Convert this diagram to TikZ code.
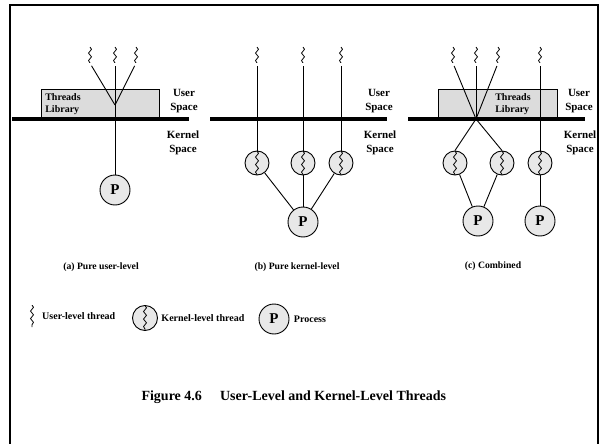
\documentclass[tikz,border=0pt]{standalone}
\usepackage{fontspec}
\setmainfont{Liberation Serif}
\usetikzlibrary{positioning,decorations.pathmorphing}
\definecolor{boxgray}{RGB}{220,220,220}
\definecolor{circgray}{RGB}{232,232,232}

\begin{document}
\begin{tikzpicture}[x=1pt,y=-1pt,
  outline/.style={line width=2.5pt},
  divider/.style={line width=3.5pt},
  link/.style={line width=0.9pt},
  wiggle/.style={decorate,decoration={snake,amplitude=1.5pt,segment length=7.5pt},line width=0.8pt},
  uthread/.style={minimum width=7pt,minimum height=16pt,inner sep=0pt,
    path picture={\draw[wiggle] (path picture bounding box.north) -- (path picture bounding box.south);}},
  kthread/.style={circle,draw,line width=0.9pt,fill=circgray,minimum size=24pt,inner sep=0pt,
    path picture={\draw[wiggle] (path picture bounding box.north) -- (path picture bounding box.south);}},
  proc/.style={circle,draw,line width=0.9pt,fill=circgray,minimum size=30pt,inner sep=0pt,
    font=\fontsize{15}{15}\selectfont\bfseries},
  libbox/.style={draw,line width=0.9pt,fill=boxgray,anchor=north west,inner sep=0pt},
  libtxt/.style={align=left,font=\fontsize{10}{12}\selectfont\bfseries},
  spacelbl/.style={align=center,font=\fontsize{11}{14.5}\selectfont\bfseries},
  panelcap/.style={font=\fontsize{9.7}{12}\selectfont\bfseries},
  legtxt/.style={font=\fontsize{10}{12}\selectfont\bfseries},
  figcap/.style={font=\fontsize{14}{16}\selectfont\bfseries},
]
\useasboundingbox (0,0) rectangle (600,444);
\draw[outline] (10,446) -- (10,5) -- (598,5) -- (598,446);

\node[libbox,minimum width=118pt,minimum height=29pt] (libA) at (41,89) {};
\node[libtxt] (tlA) at (63,104) {Threads\\Library};
\draw[divider] (12,119) -- (189,119);
\node[spacelbl] (usA) at (184,101) {User\\Space};
\node[spacelbl] (ksA) at (183,143) {Kernel\\Space};
\node[uthread] (ua1) at (90,55) {};
\node[uthread] (ua2) at (115,55) {};
\node[uthread] (ua3) at (136,55) {};
\coordinate (cvA) at (115,105);
\node[proc] (pA) at (115,190) {P};
\draw[link,shorten <=3pt] (ua1.south) -- (cvA);
\draw[link,shorten <=3pt] (ua3.south) -- (cvA);
\draw[link,shorten <=3pt] (ua2.south) -- (pA);
\node[panelcap] (capA) at (101,267) {(a) Pure user-level};

\draw[divider] (210,119) -- (387,119);
\node[spacelbl] (usB) at (379,101) {User\\Space};
\node[spacelbl] (ksB) at (380,143) {Kernel\\Space};
\node[uthread] (ub1) at (257,55) {};
\node[uthread] (ub2) at (303,55) {};
\node[uthread] (ub3) at (341,55) {};
\node[kthread] (kb1) at (257,163) {};
\node[kthread] (kb2) at (303,163) {};
\node[kthread] (kb3) at (341,163) {};
\node[proc] (pB) at (303,222) {P};
\draw[link,shorten <=3pt] (ub1.south) -- (kb1.north);
\draw[link,shorten <=3pt] (ub2.south) -- (kb2.north);
\draw[link,shorten <=3pt] (ub3.south) -- (kb3.north);
\draw[link] (kb1) -- (pB);
\draw[link] (kb2) -- (pB);
\draw[link] (kb3) -- (pB);
\node[panelcap] (capB) at (297,267) {(b) Pure kernel-level};

\node[libbox,minimum width=119pt,minimum height=29pt] (libC) at (438,89) {};
\node[libtxt] (tlC) at (513,104) {Threads\\Library};
\draw[divider] (408,119) -- (585,119);
\node[spacelbl] (usC) at (579,101) {User\\Space};
\node[spacelbl] (ksC) at (580,143) {Kernel\\Space};
\node[uthread] (uc1) at (453,55) {};
\node[uthread] (uc2) at (476,55) {};
\node[uthread] (uc3) at (498,55) {};
\node[uthread] (uc4) at (540,55) {};
\coordinate (xC) at (476,119);
\node[kthread] (kc1) at (455,163) {};
\node[kthread] (kc2) at (502,163) {};
\node[kthread] (kc3) at (540,163) {};
\node[proc] (pC1) at (478,221) {P};
\node[proc] (pC2) at (540,221) {P};
\draw[link,shorten <=3pt] (uc1.south) -- (xC) -- (kc2.north);
\draw[link,shorten <=3pt] (uc3.south) -- (xC) -- (kc1.north);
\draw[link,shorten <=3pt] (uc2.south) -- (xC);
\draw[link,shorten <=3pt] (uc4.south) -- (kc3.north);
\draw[link] (kc1) -- (pC1);
\draw[link] (kc2) -- (pC1);
\draw[link] (kc3) -- (pC2);
\node[panelcap] (capC) at (493,266) {(c) Combined};

\node[uthread,minimum height=22pt] (lgU) at (32,316) {};
\node[legtxt,right=3pt of lgU] (lgUt) {User-level thread};
\node[kthread,minimum size=25pt] (lgK) at (145,318) {};
\node[legtxt,right=0pt of lgK] (lgKt) {Kernel-level thread};
\node[proc] (lgP) at (274,319) {P};
\node[legtxt,right=1pt of lgP] (lgPt) {Process};

\node[figcap,anchor=west] (fig) at (138,397) {Figure 4.6\hspace{1.3em}User-Level and Kernel-Level Threads};
\end{tikzpicture}
\end{document}
